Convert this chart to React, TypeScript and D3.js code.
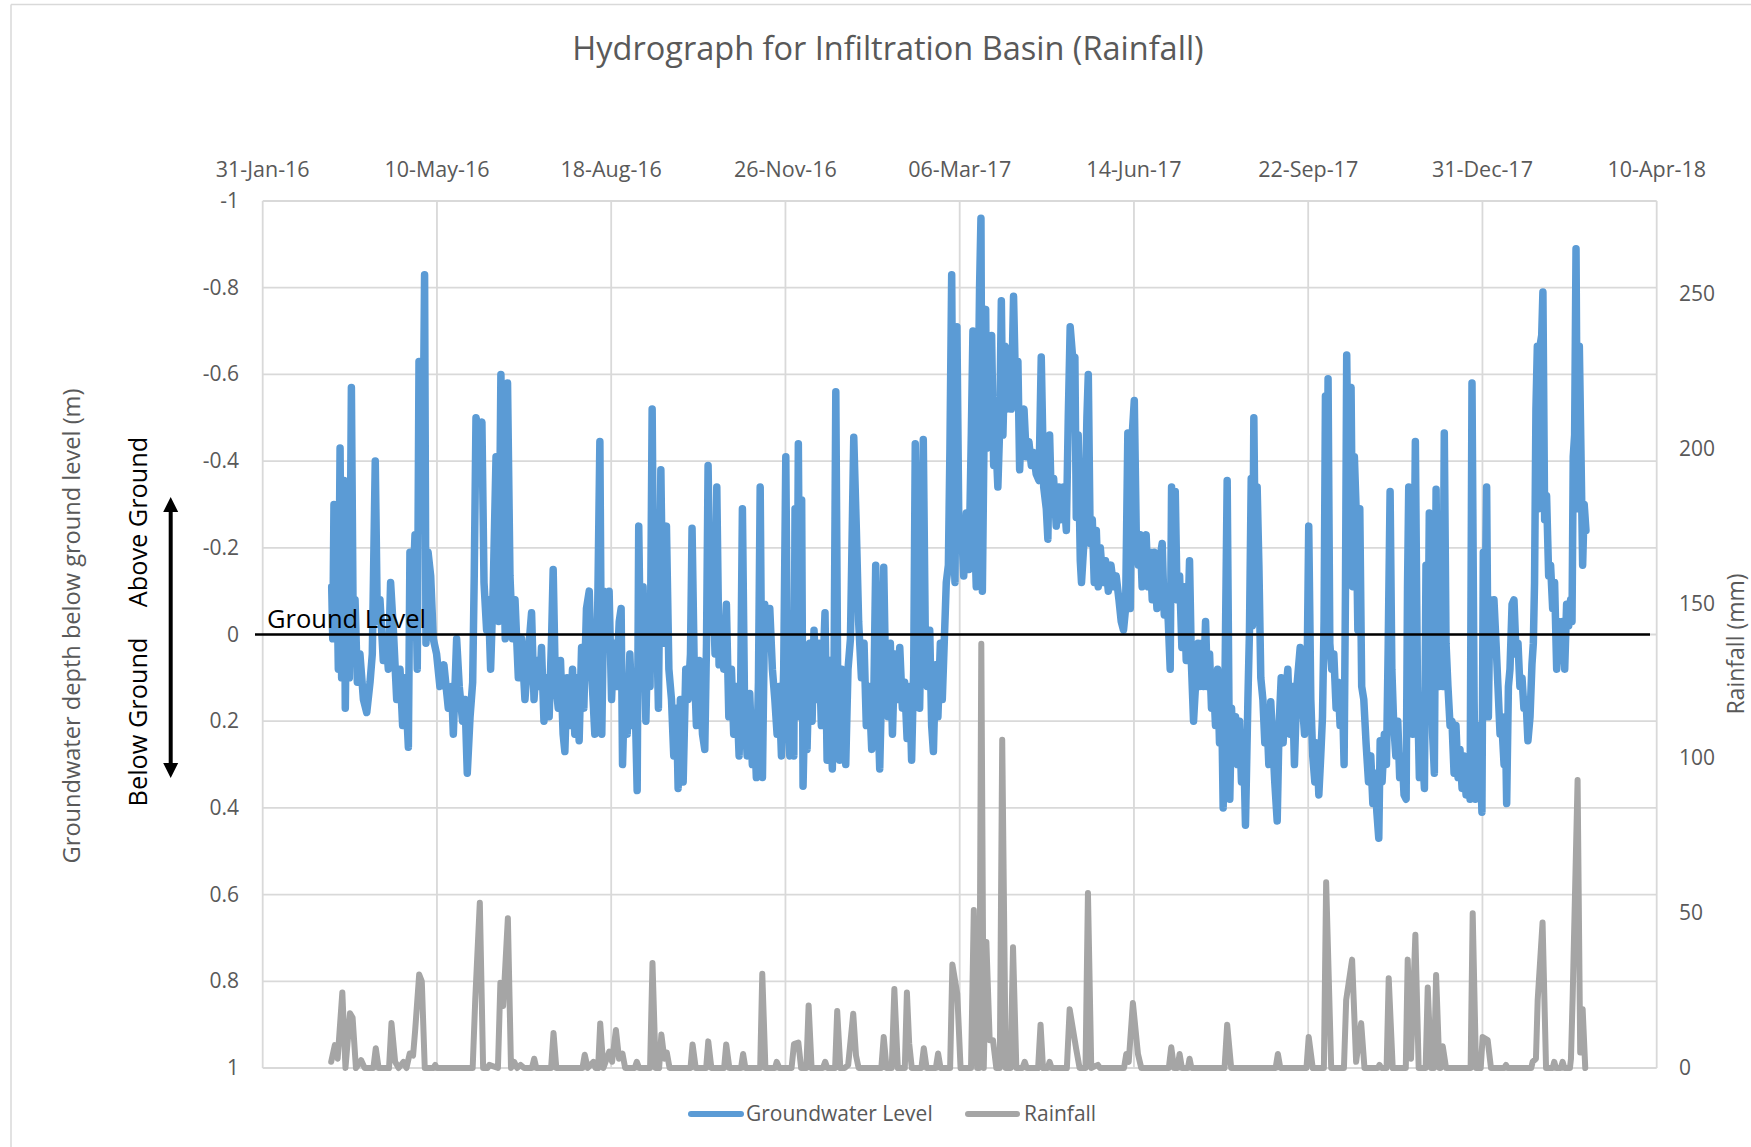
import React from 'react';
import * as d3 from 'd3';

const START = Date.UTC(2016, 0, 31);
const DAY = 86400000;

const xTickDays = [0, 100, 200, 300, 400, 500, 600, 700, 800];
const depthTicks = [-1, -0.8, -0.6, -0.4, -0.2, 0, 0.2, 0.4, 0.6, 0.8, 1];
const rainTicks = [0, 50, 100, 150, 200, 250];
const seriesNames = ['Groundwater Level', 'Rainfall'];

// [day since 31-Jan-16, depth below ground level (m)]
const groundwater: [number, number][] = [
  [39.6,-0.11],[40.2,0.01],[40.9,-0.30],[41.7,-0.03],[42.5,-0.17],[43.4,0.08],[44.4,-0.43],[45.3,0.10],[46.7,-0.355],[47.4,0.17],[48.6,-0.24],[49.7,0.10],[50.9,-0.57],[52.0,0.02],[53.0,-0.08],[54.3,0.11],[55.8,0.045],[57.8,0.15],[59.7,0.18],[61.6,0.11],[62.9,0.045],[64.6,-0.40],[65.8,-0.03],[67.3,-0.08],[69.2,0.06],[70.8,0.01],[72.1,0.08],[73.4,-0.12],[75.0,-0.01],[76.9,0.15],[78.8,0.08],[80.3,0.21],[81.7,0.10],[83.6,0.26],[84.5,-0.19],[86.0,-0.08],[87.4,-0.23],[88.7,0.08],[89.7,-0.63],[90.8,-0.24],[92.2,-0.50],[92.9,-0.83],[93.7,0.02],[94.9,-0.19],[96.4,-0.135],[97.9,0.01],[99.8,0.045],[101.7,0.12],[104.0,0.07],[106.5,0.17],[108.4,0.12],[109.4,0.23],[111.3,0.01],[112.8,0.12],[114.7,0.20],[116.1,0.15],[117.4,0.32],[119.0,0.19],[120.5,0.11],[121.4,-0.135],[122.4,-0.50],[124.3,-0.47],[125.8,-0.49],[127.0,-0.12],[128.5,-0.01],[129.5,-0.08],[130.8,0.08],[132.3,-0.11],[133.9,-0.41],[135.4,-0.03],[136.7,-0.60],[138.1,-0.24],[139.2,0.01],[140.5,-0.58],[141.9,-0.135],[143.4,0.01],[144.8,-0.08],[146.7,0.10],[148.6,0.01],[150.5,0.15],[152.4,0.045],[154.3,-0.05],[155.7,0.15],[157.2,0.06],[159.1,0.12],
  [160.0,0.03],[161.4,0.20],[162.9,0.10],[164.4,0.19],[165.9,-0.01],[166.7,-0.15],[167.9,0.10],[169.6,0.17],[170.9,0.06],[172.4,0.23],[173.4,0.27],[174.7,0.10],[176.3,0.21],[177.8,0.08],[179.1,0.23],[180.5,0.10],[181.6,0.245],[183.0,0.03],[184.3,0.17],[185.8,-0.06],[187.4,-0.10],[188.7,0.08],[190.6,0.23],[192.0,0.02],[193.5,-0.445],[194.6,0.23],[195.8,-0.10],[197.3,0.02],[198.8,-0.10],[200.2,0.15],[201.5,0.02],[203.0,0.12],[204.6,-0.03],[205.7,-0.06],[206.5,0.30],[207.8,0.10],[209.2,0.23],[210.7,0.045],[212.2,0.21],[213.5,0.11],[214.9,0.36],[215.8,-0.25],[217.0,0.11],[218.3,-0.11],[219.9,0.20],[221.2,-0.03],[222.3,0.12],[223.5,-0.52],[224.6,0.045],[226.0,-0.045],[227.1,0.17],[228.5,-0.38],[229.8,0.02],[231.7,-0.25],[233.1,0.08],[234.6,0.15],[235.9,0.28],[237.5,0.17],[238.4,0.355],[239.7,0.15],[241.3,0.34],[242.8,0.08],[244.1,0.15],[245.5,0.045],[246.4,-0.245],[247.6,0.06],[248.9,0.21],[250.5,0.06],[252.4,0.23],[253.7,0.265],[254.7,0.02],[255.6,-0.39],[257.0,-0.01],[258.5,-0.10],[259.6,0.045],[260.6,-0.34],[261.9,0.07],[263.3,-0.03],[264.6,0.08],[266.1,-0.07],[267.5,0.19],[269.0,0.08],[270.3,0.23],[271.9,0.12],[273.4,0.28],[274.3,0.12],[275.3,-0.29],[276.5,0.15],[278.0,0.28],[279.5,0.136],[281.0,0.30],[282.4,0.23],[283.3,0.33],[284.5,0.11],[285.5,-0.34],
  [286.8,0.33],[288.1,-0.07],[289.5,0.02],[291.0,-0.06],[292.5,0.08],[293.9,0.15],[295.2,0.23],[296.3,0.12],[297.7,0.28],[299.0,0.08],[300.2,-0.41],[301.3,0.15],[302.5,0.28],[303.8,0.12],[304.8,0.28],[305.5,-0.29],[306.5,0.19],[307.4,-0.44],[308.4,0.15],[309.3,-0.31],[310.1,0.35],[311.3,0.12],[312.4,0.265],[313.9,0.02],[315.3,0.20],[316.4,-0.01],[317.8,0.15],[319.3,0.02],[320.6,0.21],[321.6,0.08],[322.7,-0.05],[323.9,0.29],[325.4,0.06],[326.9,0.31],[327.9,0.08],[328.9,-0.56],[330.0,0.12],[331.1,0.29],[332.3,0.08],[333.4,0.23],[334.6,0.30],[335.9,0.08],[337.3,0.01],[339.2,-0.455],[340.7,-0.24],[342.0,-0.03],[343.6,0.10],[345.1,0.02],[346.4,0.21],[348.0,0.12],[349.5,0.265],[350.6,0.17],[351.8,-0.16],[352.9,0.15],[354.1,0.31],[355.2,0.12],[356.4,-0.155],[357.5,0.10],[358.9,0.19],[360.2,0.02],[361.4,0.23],[362.7,0.045],[364.0,0.15],[365.6,0.03],[367.1,0.17],[368.4,0.11],[369.8,0.24],[371.3,0.12],[372.4,0.29],[373.6,0.08],[374.5,-0.44],[375.9,-0.03],[377.0,0.17],[378.2,-0.11],[379.1,-0.45],[380.3,0.02],[381.4,0.12],[382.8,-0.01],[383.9,0.21],[384.9,0.27],[386.2,0.07],[387.5,0.19],[388.9,0.02],[390.0,0.15],[391.2,0.01],[392.3,-0.12],[393.5,-0.16],[394.4,-0.43],[395.4,-0.83],[396.3,-0.24],[397.3,-0.12],[398.4,-0.71],[399.6,-0.21],[400.9,-0.265],[402.3,-0.135],[403.8,-0.28],[405.3,-0.15],[406.7,-0.47],[407.6,-0.70],[408.6,-0.24],[409.5,-0.11],[410.5,-0.50],[411.4,-0.80],
  [412.2,-0.96],[413.0,-0.10],[414.1,-0.50],[414.9,-0.75],[415.6,-0.43],[416.4,-0.68],[417.6,-0.47],[418.3,-0.69],[419.5,-0.39],[420.6,-0.46],[421.9,-0.34],[422.9,-0.47],[423.9,-0.77],[424.8,-0.46],[426.0,-0.665],[427.1,-0.52],[428.7,-0.66],[429.6,-0.52],[430.9,-0.78],[432.1,-0.56],[433.4,-0.63],[434.4,-0.38],[435.5,-0.50],[436.9,-0.52],[438.2,-0.41],[439.7,-0.445],[441.1,-0.39],[442.4,-0.42],[443.9,-0.37],[445.5,-0.355],[446.8,-0.64],[448.2,-0.34],[449.7,-0.29],[450.6,-0.22],[451.6,-0.46],[452.7,-0.29],[453.9,-0.36],[455.4,-0.25],[456.9,-0.34],[458.3,-0.265],[459.6,-0.34],[461.2,-0.24],[462.3,-0.50],[463.4,-0.71],[465.0,-0.63],[466.1,-0.64],[466.9,-0.27],[468.0,-0.46],[469.2,-0.17],[469.9,-0.12],[471.7,-0.24],[473.0,-0.50],[473.8,-0.60],[474.9,-0.21],[476.1,-0.265],[477.2,-0.12],[478.4,-0.24],[479.5,-0.11],[480.7,-0.20],[482.2,-0.12],[483.7,-0.17],[485.3,-0.10],[486.8,-0.16],[488.3,-0.11],[489.8,-0.135],[491.4,-0.08],[492.7,-0.03],[494.0,-0.01],[495.2,-0.06],[496.5,-0.465],[497.9,-0.06],[499.0,-0.46],[500.2,-0.54],[501.3,-0.24],[502.5,-0.16],[503.6,-0.23],[504.7,-0.11],[505.9,-0.21],[507.0,-0.23],[508.2,-0.11],[509.3,-0.19],[510.5,-0.08],[511.6,-0.19],[513.2,-0.06],[514.7,-0.17],[516.2,-0.21],[517.4,-0.045],[518.5,-0.11],[519.7,-0.03],[520.8,0.08],[521.6,-0.34],[522.7,-0.135],[523.7,-0.33],[524.8,-0.08],[526.2,-0.135],[527.5,0.03],[528.8,-0.11],[530.0,0.06],[531.0,-0.03],[531.9,-0.17],[533.0,0.07],[534.2,0.20],[535.3,0.12],[536.7,0.02],
  [537.6,0.12],[538.8,0.02],[539.9,0.12],[541.1,-0.03],[542.2,0.12],[543.4,0.045],[544.5,0.17],[545.7,0.11],[546.8,0.21],[548.0,0.08],[549.1,0.25],[550.3,0.15],[551.2,0.40],[552.2,0.12],[553.5,-0.355],[554.5,0.15],[555.0,0.38],[556.0,0.17],[557.1,0.29],[558.3,0.19],[559.4,0.30],[560.6,0.20],[561.7,0.34],[563.1,0.28],[564.0,0.44],[565.4,0.15],[566.3,-0.01],[567.3,-0.36],[568.0,-0.02],[568.8,-0.50],[569.8,-0.11],[570.7,-0.34],[571.7,-0.16],[572.8,0.10],[574.0,0.15],[575.1,0.25],[576.3,0.19],[577.4,0.30],[578.5,0.155],[579.7,0.25],[580.8,0.34],[582.2,0.43],[583.3,0.21],[584.5,0.10],[585.6,0.25],[586.9,0.15],[588.3,0.08],[589.6,0.23],[591.0,0.12],[592.1,0.30],[593.5,0.12],[595.4,0.03],[596.5,0.15],[597.9,0.23],[599.2,0.15],[600.3,-0.25],[601.5,0.15],[602.6,0.28],[603.8,0.34],[604.9,0.25],[606.1,0.37],[607.2,0.28],[608.2,0.19],[609.1,-0.03],[609.9,-0.55],[610.7,-0.11],[611.4,-0.59],[612.4,0.02],[613.5,0.08],[614.7,0.045],[616.0,0.17],[617.2,0.11],[618.3,0.21],[619.5,0.12],[620.6,0.30],[621.4,-0.11],[622.1,-0.645],[623.1,-0.29],[623.9,-0.56],[624.6,-0.57],[625.6,-0.11],[626.5,-0.41],[627.5,-0.29],[628.5,-0.01],[629.6,-0.29],[630.7,0.12],[631.9,0.15],[633.2,0.25],[634.6,0.34],[635.9,0.28],[637.1,0.39],[638.4,0.32],[639.4,0.41],[640.5,0.47],[641.3,0.245],[642.4,0.34],[643.7,0.23],[644.9,0.30],[645.9,0.03],[647.0,-0.33],[648.0,0.08],[649.1,0.21],[650.3,0.28],[651.4,0.20],[652.5,0.33],[653.9,0.28],[655.0,0.37],[656.2,0.38],[657.0,-0.11],[657.7,-0.34],[658.9,0.15],[660.0,0.23],[661.5,-0.445],[662.7,0.12],[663.8,0.33],
  [664.8,0.21],[665.7,0.28],[666.7,0.355],[667.6,-0.16],[668.6,0.15],[669.5,-0.28],[670.7,0.12],[671.4,0.23],[672.4,0.32],[673.4,-0.335],[674.3,0.08],[675.3,0.12],[676.2,-0.17],[677.2,0.12],[678.1,-0.465],[679.1,0.02],[680.2,0.12],[681.4,0.21],[682.5,0.20],[683.7,0.32],[684.8,0.21],[686.0,0.33],[687.1,0.265],[688.3,0.355],[689.4,0.28],[690.6,0.37],[691.7,0.29],[692.9,0.38],[694.0,-0.58],[695.2,0.15],[695.9,0.38],[697.1,0.23],[698.2,0.21],[699.7,0.41],[700.5,-0.19],[701.7,-0.11],[702.4,-0.34],[703.4,0.19],[704.3,-0.08],[705.5,-0.03],[706.6,-0.08],[707.8,0.02],[708.9,0.12],[710.1,0.23],[711.2,0.21],[712.4,0.30],[713.1,0.19],[713.9,0.39],[714.9,0.12],[715.8,0.08],[717.0,-0.07],[718.1,-0.08],[719.3,0.045],[720.4,0.02],[721.5,0.12],[722.7,0.10],[723.8,0.17],[725.0,0.15],[726.1,0.245],[727.3,0.19],[728.4,0.07],[729.2,0.02],[729.9,-0.12],[730.7,-0.52],[731.5,-0.665],[732.3,-0.29],[733.0,-0.665],[734.0,-0.69],[734.7,-0.79],[735.7,-0.265],[736.8,-0.32],[738.0,-0.135],[739.1,-0.16],[740.3,-0.06],[741.4,-0.12],[742.6,0.08],[743.7,-0.03],[744.9,0.06],[746.0,-0.03],[747.2,0.08],[748.3,-0.07],[749.5,-0.02],[750.6,-0.08],[751.4,-0.03],[752.1,-0.41],[752.9,-0.46],[753.7,-0.89],[754.6,-0.29],[755.6,-0.665],[756.5,-0.43],[757.5,-0.16],[758.4,-0.30],[759.4,-0.24]
];

// [day since 31-Jan-16, rainfall (mm)]
const rainfall: [number, number][] = [
  [39.3,2],[41.4,7.4],[43,3],[45.7,24.4],[47.5,0],[50.1,17.7],[51.6,16.2],[53.5,0],[56.5,2.5],[58.5,0],[63.5,0],[64.9,6.4],[66.5,0],[72.5,0],[73.9,14.5],[76,2],[78,0],[80.8,2],[82.5,0],[84.4,4.7],[86.3,4],[87.5,12.2],[89.8,30.2],[91.3,28],[93,0],[98,0],[99,1],[100,0],[120.5,0],[122.0,22.4],[124.6,53.4],[126.5,0],[129,0],[130,1],[135,0],[136.4,27.5],[138,20],[140.7,48.4],[142.5,0],[144.3,2],[146,0],[148,1],[150,0],[154.5,0],[155.8,3],[157,0],[165.5,0],[166.9,11.3],[168.5,0],[183.5,0],[184.8,4.3],[186.5,0],[189.8,2],[191,0],[192.5,0],[193.7,14.4],[195.5,0],[198.9,5.3],[200.5,2],[202.7,12.3],[204.5,3],[206.5,4.6],[208,0],[213.5,0],[214.7,2],[216,0],[222.3,0],[223.7,33.9],[225.5,0],[227.5,0],[228.8,10.8],[230.5,3],[231.9,5],[233.5,0],[245.5,0],[246.7,7.6],[248.5,0],[254.5,0],[255.7,8.6],[257.5,0],[264.8,0],[266,7.6],[267.8,0],[274.5,0],[275.7,4.5],[277,0],[285.5,0],[286.7,30.4],[288.5,0],[294,0],[295,2],[296.5,0],[303.5,0],[304.9,7.7],[307.4,8.2],[309,0],[312,0],[313.3,20.2],[315,0],[321.5,0],[322.8,2],[324,0],[328.5,0],[329.7,18.4],[331.5,0],[334,0],[336,1],[338.9,17.5],[340.5,4],[342,0],[355,0],[356.4,10],[358,0],[361,0],[362.5,25.5],[364.5,0],[368.5,0],[369.7,24.4],[371,8],[372.5,0],[378,0],[379.4,6.4],[381,0],[386.3,0],[387.6,4.7],[389,0],[394.5,0],[395.8,33.4],[398.6,24],[400.5,0],[406.5,0],[408.1,51],[410,0],[411.2,0],[412.4,137],[413.8,0],[415.3,40.7],[417.2,9],[419.1,9],[421,0],[423,0],[424.4,106],[426.4,0],[429.2,0],[430.6,39],[432.5,0],[436,0],[437.3,2],[438.5,0],[445,0],[446.4,14],[447.8,0],[450.5,0],[451.6,2],[452.7,0],[461.5,0],[463.1,19],[466.9,6],[468.8,0],[472.2,0],[473.6,56.5],[475.5,0],[479.3,1],[480.5,0],[494.3,0],[495.6,4.5],[497,2],[499.4,21],[502.3,4.5],[504.2,0],[520,0],[521.4,6.7],[523,0],[525,0],[526.2,4.5],[527.5,0],[531,0],[531.9,3],[533,0],[552,0],[553.5,14],[555.8,0],[581.3,0],[582.6,4.5],[584,0],[599,0],[600.3,10],[602.6,0],[609,0],[610.3,60],[613.2,0],[620.5,0],[621.8,22],[625.2,35],[627.5,2],[630.4,14.5],[632.3,0],[640,0],[640.9,1],[642,0],[645,0],[646.2,29],[648.5,0],[656,0],[657.1,35],[659,3],[661.5,43],[663.4,0],[667.4,0],[668.6,26],[670.5,0],[672.2,0],[673.4,30],[675.3,0],[676,0],[677.2,7],[679.1,0],[693.2,0],[694.4,50],[696.3,0],[699,0],[700.1,10],[703,9],[704.9,0],[712.5,0],[713.5,1],[714.5,0],[728,0],[728.8,2],[730.7,3],[731.7,22],[734.5,47],[736.5,0],[740.3,0],[741.2,2],[742.2,0],[745,0],[746,2],[747,0],[750.2,0],[750.8,3],[751.8,23.5],[754.6,93],[756.1,5],[757.5,19],[759,0]
];

const FONT = "'Open Sans', 'Noto Sans', sans-serif";
const BLUE = '#5B9BD5';
const GRAY = '#A5A5A5';
const TEXT = '#595959';
const GRID = '#D9D9D9';

export default function App() {
  const W = 1751, H = 1147;
  const left = 262.7, right = 1656.7, top = 201, bottom = 1068;
  const toDate = (d: number) => new Date(START + d * DAY);
  const x = d3.scaleUtc().domain([toDate(0), toDate(800)]).range([left, right]);
  const yL = d3.scaleLinear().domain([-1, 1]).range([top, bottom]);
  const yR = d3.scaleLinear().domain([0, 280]).range([bottom, top]);
  const fmt = d3.utcFormat('%d-%b-%y');
  const gwLine = d3.line<[number, number]>().x(d => x(toDate(d[0]))).y(d => yL(d[1]));
  const rainLine = d3.line<[number, number]>().x(d => x(toDate(d[0]))).y(d => yR(d[1]));
  const y0 = yL(0);
  const arrowX = 170.7, arrowTop = 497, arrowBot = 778;

  return (
    <svg width={W} height={H} style={{ position: 'absolute', left: 0, top: 0, background: '#fff' }} fontFamily={FONT}>
      <rect x={0} y={0} width={W} height={H} fill="#fff" />
      <line x1={11} y1={4.5} x2={W} y2={4.5} stroke={GRID} strokeWidth={1.5} />
      <line x1={11} y1={4.5} x2={11} y2={H} stroke={GRID} strokeWidth={1.5} />
      <text x={888} y={60} textAnchor="middle" fontSize={32.5} fill={TEXT}>Hydrograph for Infiltration Basin (Rainfall)</text>

      {depthTicks.map(t => (
        <line key={'h' + t} x1={left} x2={right} y1={yL(t)} y2={yL(t)} stroke={GRID} strokeWidth={1.8} />
      ))}
      {xTickDays.map(t => (
        <line key={'v' + t} x1={x(toDate(t))} x2={x(toDate(t))} y1={top} y2={bottom} stroke={GRID} strokeWidth={1.8} />
      ))}
      {xTickDays.map(t => (
        <text key={'xl' + t} x={x(toDate(t))} y={177} textAnchor="middle" fontSize={21.5} fill={TEXT}>{fmt(toDate(t))}</text>
      ))}
      {depthTicks.map(t => (
        <text key={'yl' + t} x={239} y={yL(t) + 7} textAnchor="end" fontSize={21} fill={TEXT}>{String(t)}</text>
      ))}
      {rainTicks.map(t => (
        <text key={'yr' + t} x={1679} y={yR(t) + 7} textAnchor="start" fontSize={21} fill={TEXT}>{String(t)}</text>
      ))}

      <path d={gwLine(groundwater) || ''} fill="none" stroke={BLUE} strokeWidth={7.5} strokeLinejoin="round" strokeLinecap="round" />
      <path d={rainLine(rainfall) || ''} fill="none" stroke={GRAY} strokeWidth={6} strokeLinejoin="round" strokeLinecap="round" />

      <line x1={255} x2={1650} y1={y0} y2={y0} stroke="#000" strokeWidth={2.5} />
      <text x={267} y={628} fontSize={25.5} fill="#000">Ground Level</text>

      <text transform={`translate(80, 626) rotate(-90)`} textAnchor="middle" fontSize={23.6} fill={TEXT}>Groundwater depth below ground level (m)</text>
      <text transform={`translate(147, 522) rotate(-90)`} textAnchor="middle" fontSize={25.3} fill="#000">Above Ground</text>
      <text transform={`translate(147, 722) rotate(-90)`} textAnchor="middle" fontSize={25.3} fill="#000">Below Ground</text>
      <line x1={arrowX} x2={arrowX} y1={arrowTop + 12} y2={arrowBot - 12} stroke="#000" strokeWidth={4} />
      <polygon points={`${arrowX},${arrowTop} ${arrowX - 7.5},${arrowTop + 15} ${arrowX + 7.5},${arrowTop + 15}`} fill="#000" />
      <polygon points={`${arrowX},${arrowBot} ${arrowX - 7.5},${arrowBot - 15} ${arrowX + 7.5},${arrowBot - 15}`} fill="#000" />

      <text transform={`translate(1744, 644) rotate(-90)`} textAnchor="middle" fontSize={23} fill={TEXT}>Rainfall (mm)</text>

      <line x1={691} x2={741} y1={1114} y2={1114} stroke={BLUE} strokeWidth={6} strokeLinecap="round" />
      <text x={746} y={1121} fontSize={21} fill={TEXT}>{seriesNames[0]}</text>
      <line x1={968} x2={1017} y1={1114} y2={1114} stroke={GRAY} strokeWidth={6} strokeLinecap="round" />
      <text x={1024} y={1121} fontSize={21} fill={TEXT}>{seriesNames[1]}</text>
    </svg>
  );
}
